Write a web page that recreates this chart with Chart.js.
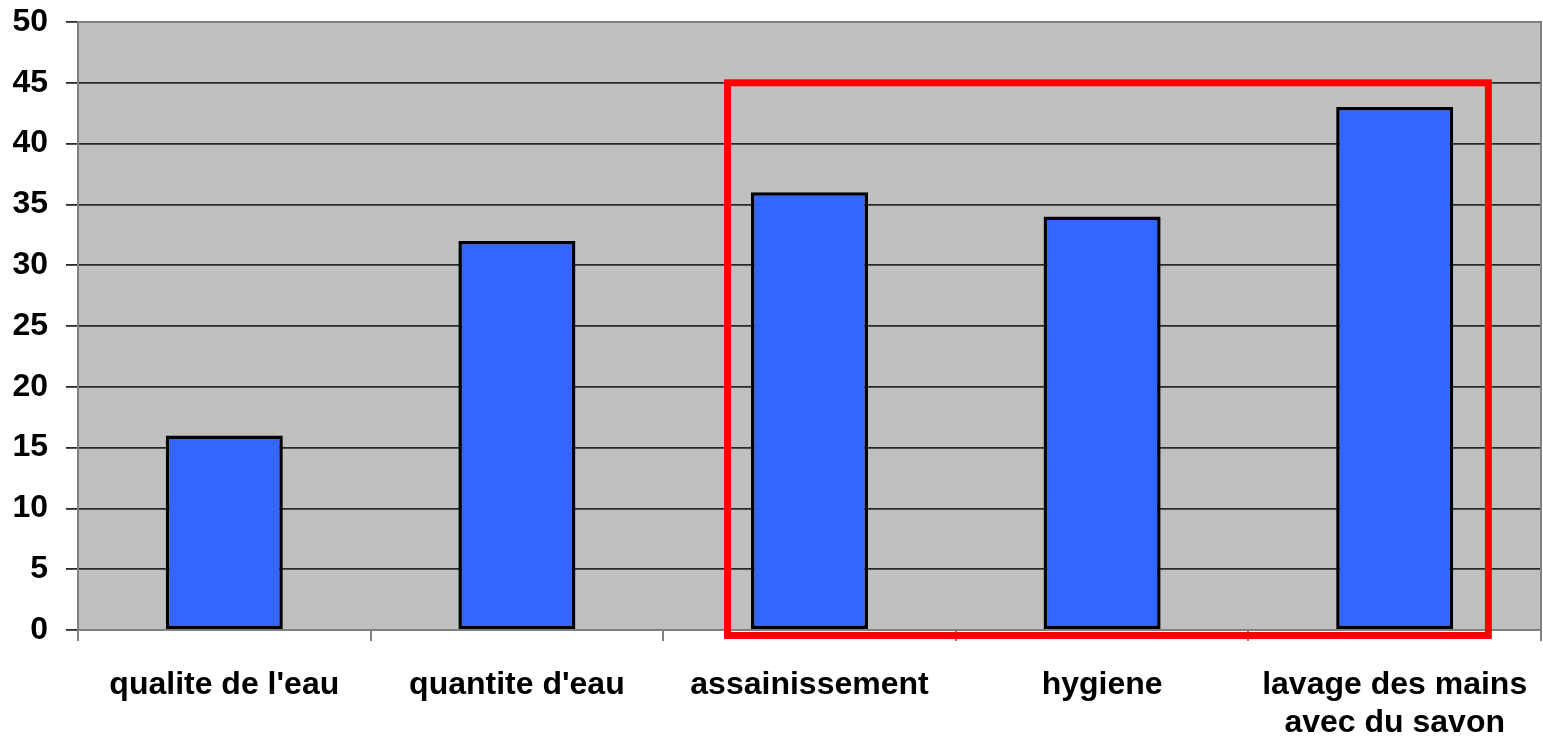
<!DOCTYPE html>
<html>
<head>
<meta charset="utf-8">
<script src="https://cdn.jsdelivr.net/npm/chart.js@4/dist/chart.umd.min.js"></script>
<style>
html,body{margin:0;padding:0;background:#fff;}
#wrap{width:1543px;height:738px;position:relative;}
</style>
</head>
<body>
<div id="wrap"><canvas id="c" width="1543" height="738"></canvas></div>
<script>
const categories = [["qualite de l'eau"], ["quantite d'eau"], ["assainissement"], ["hygiene"], ["lavage des mains", "avec du savon"]];
const values = [16, 32, 36, 34, 43];
const yTicks = [0, 5, 10, 15, 20, 25, 30, 35, 40, 45, 50];
const highlightFrom = 2, highlightTo = 4, highlightTop = 45;

const bgPlugin = {
  id: 'bg',
  beforeDraw(chart) {
    const {ctx, chartArea: a} = chart;
    ctx.save();
    ctx.fillStyle = '#C0C0C0';
    ctx.fillRect(a.left, a.top, a.right - a.left, a.bottom - a.top);
    ctx.restore();
  },
  afterDatasetsDraw(chart) {
    const {ctx, chartArea: a, scales} = chart;
    ctx.save();
    ctx.strokeStyle = '#808080';
    ctx.lineWidth = 2;
    ctx.beginPath();
    ctx.moveTo(a.left, a.top); ctx.lineTo(a.right, a.top); ctx.lineTo(a.right, a.bottom);
    ctx.stroke();
    const x = scales.x, y = scales.y;
    const L = x.getPixelForValue(highlightFrom - 0.28);
    const R = x.getPixelForValue(highlightTo + 0.32);
    const T = y.getPixelForValue(highlightTop);
    const B = y.getPixelForValue(-0.45);
    ctx.strokeStyle = '#FF0000';
    ctx.lineWidth = 7;
    ctx.strokeRect(L, T, R - L, B - T);
    ctx.restore();
  }
};

new Chart(document.getElementById('c'), {
  type: 'bar',
  data: {
    labels: categories,
    datasets: [{
      data: values,
      backgroundColor: '#3366FF',
      borderColor: '#000000',
      borderWidth: 3.5,
      borderSkipped: false,
      barPercentage: 0.4,
      categoryPercentage: 1.0
    }]
  },
  options: {
    responsive: false,
    animation: false,
    devicePixelRatio: 1,
    layout: {padding: {top: 22, right: 2, left: 0, bottom: 0}},
    plugins: {legend: {display: false}, tooltip: {enabled: false}},
    scales: {
      x: {
        offset: true,
        grid: {display: true, drawOnChartArea: false, offset: true, color: '#808080', lineWidth: 2, tickLength: 11},
        border: {display: true, color: '#808080', width: 2},
        ticks: {
          color: '#000',
          font: {family: '"Liberation Sans", Arial, sans-serif', size: 32, weight: 'bold'},
          padding: 25,
          maxRotation: 0,
          autoSkip: false
        },
        afterFit(s) { s.height = 108; s.paddingLeft = 0; s.paddingRight = 0; }
      },
      y: {
        min: 0, max: 50,
        afterBuildTicks(s) { s.ticks = yTicks.map(v => ({value: v})); },
        grid: {color: '#2a2a2a', lineWidth: 1.8, tickLength: 12, drawTicks: true},
        border: {display: true, color: '#808080', width: 2},
        ticks: {
          color: '#000',
          font: {family: '"Liberation Sans", Arial, sans-serif', size: 32, weight: 'bold'},
          padding: 18
        },
        afterFit(s) { s.width = 78; s.paddingTop = 0; s.paddingBottom = 0; }
      }
    }
  },
  plugins: [bgPlugin]
});
</script>
</body>
</html>
